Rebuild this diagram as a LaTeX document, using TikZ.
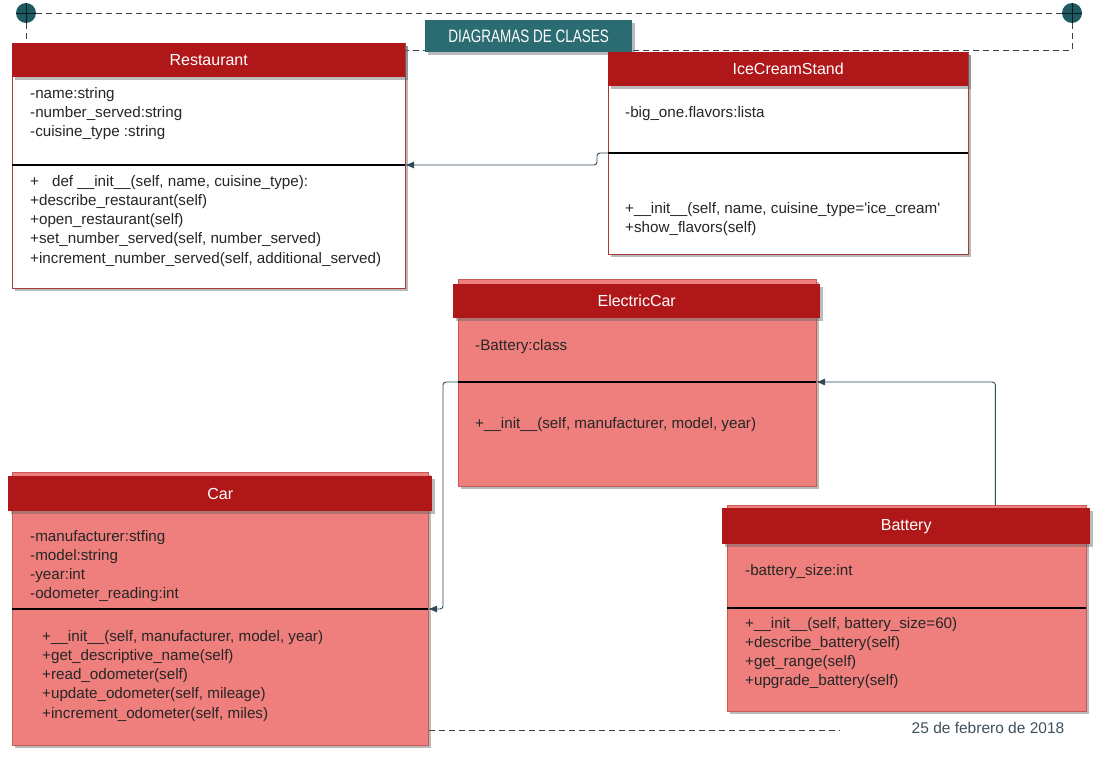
\documentclass[tikz,border=0pt]{standalone}
\usepackage{fontspec}
\usepackage{graphicx}
\setmainfont{Liberation Sans}
\usetikzlibrary{arrows.meta,shadows}
\definecolor{hdrred}{HTML}{B01718}
\definecolor{pinkfill}{HTML}{EF7F7D}
\definecolor{pinkline}{HTML}{C85A58}
\definecolor{whiteline}{HTML}{A83A3A}
\definecolor{tealbox}{HTML}{2B6B72}
\definecolor{tealdot}{HTML}{1F5A62}
\definecolor{conncol}{HTML}{2E4A55}
\definecolor{dashcol}{HTML}{3A4248}
\definecolor{txtcol}{HTML}{262626}
\definecolor{datecol}{HTML}{3D4F5A}
\pgfdeclarelayer{bg}
\pgfsetlayers{bg,main}
\newcommand\classtext[5]{%
  \foreach \ltxt [count=\i] in {#5} {\node[txt] (#1\i) at (#2,{#3+#4*(\i-1)}) {\ltxt};}}
\begin{document}
\begin{tikzpicture}[x=1pt,y=-1pt,
  shad/.style={drop shadow={shadow xshift=2.5pt,shadow yshift=-3pt,opacity=0.45,fill=black!60}},
  wbody/.style={anchor=north west,draw=whiteline,line width=0.7pt,fill=white,inner sep=0,shad},
  pbody/.style={anchor=north west,draw=pinkline,line width=0.7pt,fill=pinkfill,inner sep=0,shad},
  hdr/.style={anchor=north west,fill=hdrred,inner sep=0,text=white,font=\fontsize{16}{19}\selectfont,shad},
  txt/.style={anchor=base west,inner sep=0,text=txtcol,font=\fontsize{15.2}{18}\selectfont},
  divline/.style={black,line width=1.6pt},
  connector/.style={conncol,line width=0.9pt,rounded corners=3pt,-{Latex[length=9pt,width=7pt]}},
  dashline/.style={dashcol,line width=0.9pt,dash pattern=on 6pt off 4pt},
  dot/.style={circle,fill=tealdot,minimum size=20pt,inner sep=0,
    path picture={\draw[black!70!tealdot,line width=0.6pt]
      (path picture bounding box.north) -- (path picture bounding box.south)
      (path picture bounding box.west) -- (path picture bounding box.east);}},
  titlebox/.style={anchor=north west,fill=tealbox,inner sep=0,text=white,shad}
]
\useasboundingbox (0,0) rectangle (1098,757);

% title
\node[titlebox,minimum width=207pt,minimum height=32pt] (title) at (425,20)
  {\scalebox{0.75}[1]{\fontsize{18}{20}\selectfont DIAGRAMAS DE CLASES}};

% Restaurant
\node[wbody,minimum width=393pt,minimum height=245pt] (rb) at (12,43) {};
\node[hdr,minimum width=393pt,minimum height=34pt] (rh) at (12,43) {Restaurant};
\coordinate (rdL) at (12,165);
\coordinate (rdR) at (405,165);
\draw[divline] (rdL) -- (rdR);
\classtext{ra}{30}{99}{19}{{-name:string},{-number\_served:string},{-cuisine\_type :string}}
\classtext{rm}{30}{186}{19.25}{{+\hspace{13pt}def \_\_init\_\_(self, name, cuisine\_type):},{+describe\_restaurant(self)},{+open\_restaurant(self)},{+set\_number\_served(self, number\_served)},{+increment\_number\_served(self, additional\_served)}}

% IceCreamStand
\node[wbody,minimum width=360pt,minimum height=202pt] (ib) at (608,52) {};
\node[hdr,minimum width=360pt,minimum height=34pt] (ih) at (608,52) {IceCreamStand};
\coordinate (idL) at (608,153);
\coordinate (idR) at (968,153);
\draw[divline] (idL) -- (idR);
\classtext{ia}{625}{118}{19}{{-big\_one.flavors:lista}}
\classtext{im}{625}{213}{19}{{+\_\_init\_\_(self, name, cuisine\_type=\textquotesingle ice\_cream\textquotesingle},{+show\_flavors(self)}}

% ElectricCar
\node[pbody,minimum width=358pt,minimum height=207pt] (eb) at (458,279) {};
\node[hdr,minimum width=367pt,minimum height=34pt] (eh) at (453,284) {ElectricCar};
\coordinate (edL) at (458,382);
\coordinate (edR) at (816,382);
\draw[divline] (edL) -- (edR);
\classtext{ea}{475}{350}{19}{{-Battery:class}}
\classtext{em}{475}{428}{19}{{+\_\_init\_\_(self, manufacturer, model, year)}}

% Car
\node[pbody,minimum width=416pt,minimum height=273pt] (cb) at (12,472) {};
\node[hdr,minimum width=424pt,minimum height=35pt] (ch) at (8,476) {Car};
\coordinate (cdL) at (12,609);
\coordinate (cdR) at (428,609);
\draw[divline] (cdL) -- (cdR);
\classtext{ca}{30}{541}{19}{{-manufacturer:stfing},{-model:string},{-year:int},{-odometer\_reading:int}}
\classtext{cm}{42}{641}{19.3}{{+\_\_init\_\_(self, manufacturer, model, year)},{+get\_descriptive\_name(self)},{+read\_odometer(self)},{+update\_odometer(self, mileage)},{+increment\_odometer(self, miles)}}

% Battery
\node[pbody,minimum width=359pt,minimum height=206pt] (bb) at (727,505) {};
\node[hdr,minimum width=368pt,minimum height=36pt] (bh) at (722,508) {Battery};
\coordinate (bdL) at (727,608);
\coordinate (bdR) at (1086,608);
\draw[divline] (bdL) -- (bdR);
\classtext{ba}{745}{575}{19}{{-battery\_size:int}}
\classtext{bm}{745}{628}{19.3}{{+\_\_init\_\_(self, battery\_size=60)},{+describe\_battery(self)},{+get\_range(self)},{+upgrade\_battery(self)}}

% date
\node[inner sep=0,text=datecol,font=\fontsize{15.5}{18}\selectfont] (date) at (988,728) {25 de febrero de 2018};

% frame dots and dashed lines
\node[dot] (c1) at (26,13) {};
\node[dot] (c2) at (1072,13) {};
\coordinate (dashEnd) at (840,730);
\begin{pgfonlayer}{bg}
\draw[dashline] (c1) -- (c2);
\draw[dashline] (c1) -- (c1 |- rh.north);
\draw[dashline] (c2) |- ([yshift=-7pt]rh.north east);
\draw[dashline] (cb.east |- dashEnd) -- (dashEnd);
\end{pgfonlayer}

% connectors
\draw[connector] (idL) -- ++(-11,0) |- (rdR);
\draw[connector] ([xshift=88.5pt]bb.north) |- (edR);
\draw[connector] (edL) -- ++(-15,0) |- (cdR);
\end{tikzpicture}
\end{document}
